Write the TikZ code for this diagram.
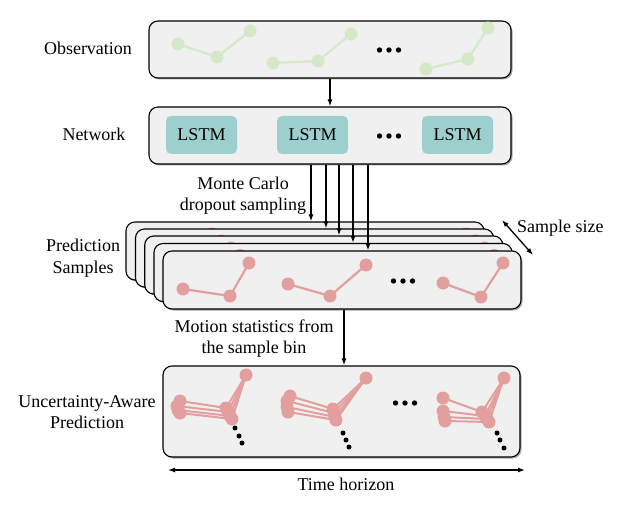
\documentclass[tikz,border=0pt]{standalone}
\usepackage{fontspec}
\setmainfont{Liberation Serif}
\usetikzlibrary{arrows.meta,shadows,calc}
\definecolor{boxfill}{HTML}{F0F0F0}
\definecolor{obsgreen}{HTML}{D5E8C8}
\definecolor{predred}{HTML}{E39E9E}
\definecolor{lstmteal}{HTML}{9DCFCF}
\newcommand\traj[4]{\draw[#1,line width=2.2pt] #2 -- #3 -- #4; \fill[#1] #2 circle (6.5) #3 circle (6.5) #4 circle (6.5);}
\newcommand\hdots[1]{\fill[black] ($#1+(-9.5,0)$) circle (2.7) #1 circle (2.7) ($#1+(9.5,0)$) circle (2.7);}
\newcommand\predtraj{%
  \traj{predred}{(183,289)}{(230,296)}{(249,263)}
  \traj{predred}{(288,284)}{(330,296)}{(366,265)}
  \traj{predred}{(443,283)}{(481,297)}{(503,263)}
  \hdots{(403,281)}}
\newcommand\fan[3]{\draw[predred,line width=2pt] #1 -- #2 -- #3; \fill[predred] #1 circle (6.5) #2 circle (6.5);}
\begin{document}
\begin{tikzpicture}[x=1pt,y=-1pt,
  every node/.style={font=\fontsize{18}{21.5}\selectfont, inner sep=0pt},
  panel/.style={draw=black, line width=1.1pt, fill=boxfill, rounded corners=9pt,
    drop shadow={shadow xshift=1.5pt, shadow yshift=-1.5pt, opacity=0.35, fill=black}},
  lstmbox/.style={fill=lstmteal, rounded corners=5pt, minimum width=71pt, minimum height=38pt},
  arr/.style={-{Latex[length=7pt,width=5pt]}, line width=1.3pt},
  darr/.style={{Latex[length=7pt,width=5pt]}-{Latex[length=7pt,width=5pt]}, line width=1.3pt}]
\useasboundingbox (0,0) rectangle (623,513);

% Observation
\node[panel, minimum width=362pt, minimum height=57pt] (obs) at (330,49.5) {};
\traj{obsgreen}{(178,44)}{(217,57)}{(250,31)}
\traj{obsgreen}{(273,63)}{(318,61)}{(351,34)}
\traj{obsgreen}{(426,69)}{(468,59)}{(488,28)}
\hdots{(389,50)}
\node (lobs) at (88,48) {Observation};

% Network
\node[panel, minimum width=362pt, minimum height=57pt] (net) at (330,135.5) {};
\node[lstmbox] (l1) at (201.5,135) {LSTM};
\node[lstmbox] (l2) at (312.5,135) {LSTM};
\node[lstmbox] (l3) at (457.5,135) {LSTM};
\hdots{(389,136)}
\node (lnet) at (94,134) {Network};
\draw[arr] (obs.south) -- (net.north);

% Prediction samples stack
\node[panel, minimum width=358pt, minimum height=58pt] (s1) at (305,251) {};
\begin{scope}[shift={(-37,-29)}]\predtraj\end{scope}
\node[panel, minimum width=358pt, minimum height=58pt] (s2) at (314.5,258) {};
\begin{scope}[shift={(-27.5,-22)}]\predtraj\end{scope}
\node[panel, minimum width=358pt, minimum height=58pt] (s3) at (323.75,265) {};
\begin{scope}[shift={(-18.25,-15)}]\predtraj\end{scope}
\node[panel, minimum width=358pt, minimum height=58pt] (s4) at (333,272.5) {};
\begin{scope}[shift={(-9,-7.5)}]\predtraj\end{scope}
\node[panel, minimum width=358pt, minimum height=58pt] (s5) at (342,280) {};
\predtraj
\node[align=center] (lpred) at (83,258) {Prediction\\Samples};

\coordinate (m1) at (311,0);
\coordinate (m2) at (326,0);
\coordinate (m3) at (339,0);
\coordinate (m4) at (353,0);
\coordinate (m5) at (368,0);
\draw[arr] (net.south -| m1) -- (s1.north -| m1);
\draw[arr] (net.south -| m2) -- (s2.north -| m2);
\draw[arr] (net.south -| m3) -- (s3.north -| m3);
\draw[arr] (net.south -| m4) -- (s4.north -| m4);
\draw[arr] (net.south -| m5) -- (s5.north -| m5);
\node[align=center] (lmc) at (243,195.5) {Monte Carlo\\dropout sampling};

\coordinate (ss1) at (502,220);
\coordinate (ss2) at (533,255);
\draw[darr] (ss1) -- (ss2);
\node[anchor=west] (lss) at (517,228) {Sample size};

% Uncertainty-aware prediction
\node[panel, minimum width=357pt, minimum height=91pt] (unc) at (341.5,411.5) {};
\coordinate (m6) at (344,0);
\draw[arr] (s5.south -| m6) -- (unc.north -| m6);
\node[align=center] (lmot) at (254,338.5) {Motion statistics from\\the sample bin};

% group 1
\fan{(180,401)}{(226,408)}{(246,375)}
\fan{(177,406)}{(228,412)}{(246,375)}
\fan{(178,410)}{(230,416)}{(246,375)}
\fan{(180,413)}{(232,419)}{(246,375)}
\fill[predred] (246,375) circle (6.5);
\fill[black] (235,428) circle (2.5) (239,436) circle (2.5) (242,443) circle (2.5);
% group 2
\fan{(290,396)}{(333,409)}{(366,378)}
\fan{(287,401)}{(334,413)}{(366,378)}
\fan{(287,407)}{(335,417)}{(366,378)}
\fan{(288,412)}{(336,420)}{(366,378)}
\fill[predred] (366,378) circle (6.5);
\fill[black] (343,433) circle (2.5) (346,440) circle (2.5) (349,447) circle (2.5);
% group 3
\fan{(443,398)}{(482,412)}{(504,378)}
\fan{(443,411)}{(485,416)}{(504,378)}
\fan{(444,417)}{(487,419)}{(504,378)}
\fan{(445,421)}{(489,422)}{(504,378)}
\fill[predred] (504,378) circle (6.5);
\fill[black] (497,433) circle (2.5) (500,440) circle (2.5) (504,448) circle (2.5);
\hdots{(405,403)}
\node[align=center] (lunc) at (87,412) {Uncertainty-Aware\\Prediction};

% time horizon
\coordinate (th1) at (168,470);
\coordinate (th2) at (525,470);
\draw[darr] (th1) -- (th2);
\node (lth) at (346,484) {Time horizon};
\end{tikzpicture}
\end{document}
